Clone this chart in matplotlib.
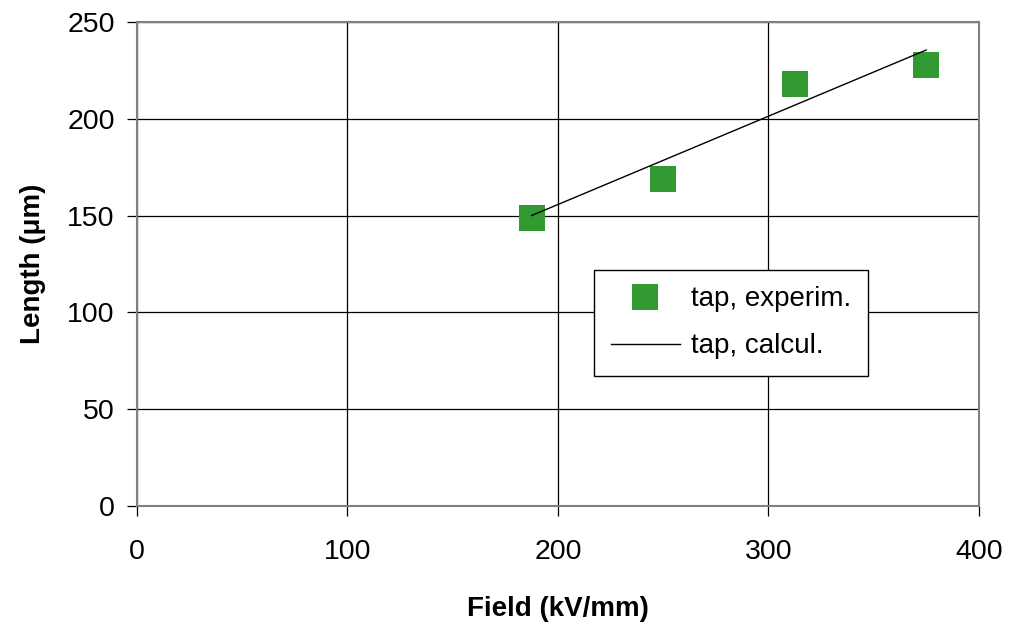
import matplotlib
matplotlib.use("Agg")
import matplotlib.pyplot as plt

plt.rcParams['font.family'] = ['Liberation Sans', 'DejaVu Sans']

# Measured tap length versus applied field
field_exp = [187.5, 250, 312.5, 375]
length_exp = [149, 169, 218, 228]

# Calculated tap length
field_calc = [187.5, 375]
length_calc = [150, 235.5]

x_ticks = [0, 100, 200, 300, 400]
y_ticks = [0, 50, 100, 150, 200, 250]

fig = plt.figure(figsize=(10.09, 6.26), dpi=100)
ax = fig.add_axes([0.1358, 0.1917, 0.8342, 0.7732])

ax.plot(field_exp, length_exp, linestyle='none', marker='s', markersize=19,
        color='#339933', markeredgewidth=0, label='tap, experim.', zorder=3)
ax.plot(field_calc, length_calc, color='black', linewidth=1.0,
        label='tap, calcul.', zorder=4)

ax.set_xlim(0, 400)
ax.set_ylim(0, 250)
ax.set_xticks(x_ticks)
ax.set_yticks(y_ticks)
ax.grid(True, color='black', linewidth=0.9)
ax.set_axisbelow(True)

for side in ['left', 'bottom', 'right', 'top']:
    ax.spines[side].set_color('#808080')
    ax.spines[side].set_linewidth(1.5)

ax.tick_params(axis='both', direction='out', length=7, width=0.9, color='black',
               labelsize=20.5)
ax.tick_params(axis='x', pad=17)
ax.tick_params(axis='y', pad=9)

ax.set_xlabel('Field (kV/mm)', fontsize=20, fontweight='bold', labelpad=22)
ax.set_ylabel('Length (μm)', fontsize=20, fontweight='bold', labelpad=15)

leg = ax.legend(loc='upper left', bbox_to_anchor=(0.543, 0.488), fontsize=20,
                frameon=True, fancybox=False, shadow=False, borderpad=0.6,
                handlelength=2.5, handletextpad=0.4, labelspacing=0.75,
                borderaxespad=0)
leg.get_frame().set_edgecolor('black')
leg.get_frame().set_linewidth(1.0)
leg.get_frame().set_alpha(1.0)

fig.savefig('out.png', dpi=100)
